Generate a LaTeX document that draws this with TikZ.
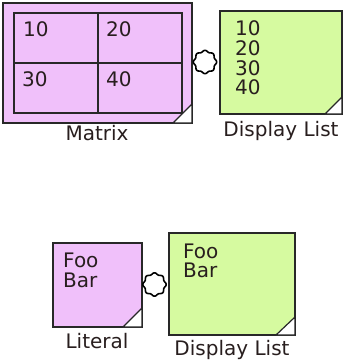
\documentclass[tikz,border=0pt]{standalone}
\usepackage{fontspec}
\setmainfont{DejaVu Sans}
\definecolor{pinkfill}{RGB}{240,192,250}
\definecolor{greenfill}{RGB}{214,250,160}
\definecolor{edge}{RGB}{40,40,40}
\definecolor{txt}{RGB}{40,30,30}
\tikzset{
  blk/.style={draw=edge, line width=1.5pt},
  tri/.style={draw=edge, line width=1.2pt, fill=white},
  txtnode/.style={inner sep=0pt, text=txt, font=\fontsize{20}{21}\selectfont},
  lbl/.style={inner sep=0pt, text=txt, font=\fontsize{20}{21}\selectfont, anchor=base},
  port/.style={draw=black, line width=1.6pt, fill=white, line join=round},
}
\newcommand{\portgear}[2]{%
  \draw[port] plot[smooth cycle, samples=64, domain=0:354.375, variable=\t] ({#1+(10.9+0.8*cos(8*\t))*cos(\t)}, {#2+(10.9+0.8*cos(8*\t))*sin(\t)});}
\begin{document}
\begin{tikzpicture}[x=1pt, y=-1pt]
\useasboundingbox (0,0) rectangle (343,360);
% ---------- Matrix ----------
\path[blk, fill=pinkfill] (3,3) rectangle (192,123);
\draw[blk] (14,13) rectangle (182,113);
\draw[blk] (98,13) -- (98,113);
\draw[blk] (14,63) -- (182,63);
\draw[tri] (173,123) -- (192,123) -- (192,104) -- cycle;
\node[txtnode, anchor=west] (m10) at (23,29) {10};
\node[txtnode, anchor=west] (m20) at (106,29) {20};
\node[txtnode, anchor=west] (m30) at (22,79) {30};
\node[txtnode, anchor=west] (m40) at (106,79) {40};
\node[lbl] (mlab) at (97,140) {Matrix};
% port
\portgear{205}{62}
% ---------- Display List (top) ----------
\path[blk, fill=greenfill] (220,11) rectangle (342,114);
\draw[tri] (325,114) -- (342,114) -- (342,97) -- cycle;
\node[txtnode, anchor=west] (d10) at (235,28) {10};
\node[txtnode, anchor=west] (d20) at (235,48) {20};
\node[txtnode, anchor=west] (d30) at (235,68) {30};
\node[txtnode, anchor=west] (d40) at (235,87) {40};
\node[lbl] (dlab1) at (281,136) {Display List};
% ---------- Literal ----------
\path[blk, fill=pinkfill] (53,243) rectangle (142,327);
\draw[tri] (123,327) -- (142,327) -- (142,308) -- cycle;
\node[txtnode, anchor=west] (lfoo) at (63,260) {Foo};
\node[txtnode, anchor=west] (lbar) at (63,280) {Bar};
\node[lbl] (llab) at (97,348) {Literal};
\portgear{154.5}{284.5}
% ---------- Display List (bottom) ----------
\path[blk, fill=greenfill] (169,233) rectangle (295,335);
\draw[tri] (276,335) -- (295,335) -- (295,317) -- cycle;
\node[txtnode, anchor=west] (dfoo) at (183,251) {Foo};
\node[txtnode, anchor=west] (dbar) at (183,270) {Bar};
\node[lbl] (dlab2) at (232,355) {Display List};
\end{tikzpicture}
\end{document}
